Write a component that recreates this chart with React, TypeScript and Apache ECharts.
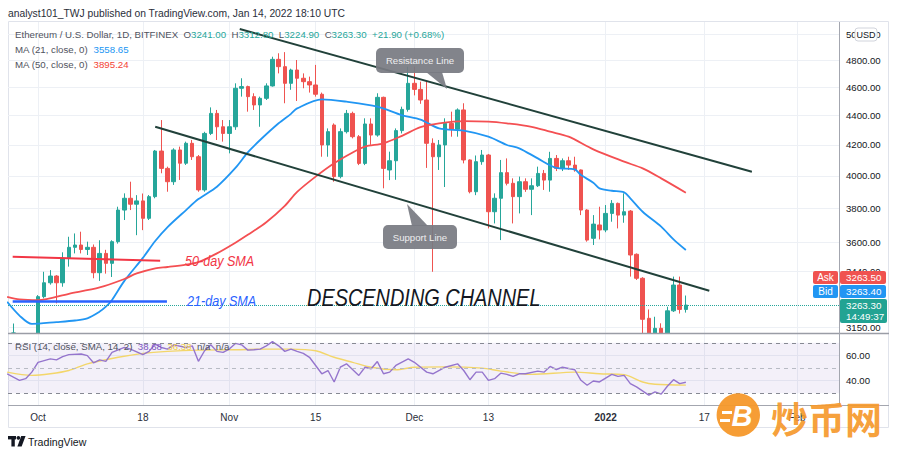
import React, { useEffect, useRef } from 'react';
import * as echarts from 'echarts';

const FONT = '"Liberation Sans", Arial, Helvetica, sans-serif';

// Day index 0 = 2021-10-01. First candle is 2021-09-27 (day -4), last is 2022-01-14 (day 105).
const FIRST_DAY = -4;

const opens = [
  3060, 2930, 2810, 2850, 3000, 3307, 3380, 3416, 3380, 3513,
  3574, 3587, 3562, 3574, 3434, 3540, 3485, 3606, 3790, 3861,
  3825, 3845, 3741, 3871, 4159, 4047, 3963, 4166, 4080, 4210,
  4122, 3912, 4276, 4413, 4321, 4276, 4321, 4591, 4603, 4531,
  4472, 4519, 4608, 4805, 4750, 4627, 4725, 4664, 4639, 4615,
  4548, 4199, 4333, 3995, 4288, 4413, 4254, 4079, 4340, 4265,
  4526, 4037, 4096, 4295, 4441, 4627, 4583, 4507, 4210, 4122,
  4199, 4344, 4304, 4437, 4101, 3901, 4090, 4133, 3780, 3861,
  4020, 3953, 3871, 3963, 3916, 3938, 4015, 3973, 4111, 4047,
  4096, 4068, 4037, 3790, 3625, 3702, 3673, 3770, 3830, 3760,
  3784, 3535, 3404, 3196, 3090, 3146, 3080, 3234, 3368, 3241,
];
const closes = [
  2930, 2810, 2850, 3000, 3307, 3380, 3416, 3380, 3513, 3574,
  3587, 3562, 3574, 3434, 3540, 3485, 3606, 3790, 3861, 3825,
  3845, 3741, 3871, 4159, 4047, 3963, 4166, 4080, 4210, 4122,
  3912, 4276, 4413, 4321, 4276, 4321, 4591, 4603, 4531, 4472,
  4519, 4608, 4805, 4750, 4627, 4725, 4664, 4639, 4615, 4548,
  4199, 4288, 3995, 4288, 4413, 4254, 4079, 4340, 4265, 4526,
  4047, 4096, 4295, 4441, 4627, 4583, 4507, 4210, 4122, 4199,
  4344, 4304, 4437, 4101, 3901, 4090, 4133, 3780, 3861, 4020,
  3953, 3871, 3963, 3916, 3938, 4015, 3973, 4111, 4047, 4096,
  4068, 4037, 3790, 3615, 3707, 3673, 3770, 3830, 3760, 3780,
  3531, 3404, 3191, 3100, 3146, 3080, 3234, 3368, 3241, 3263.3,
];
const lows = [
  2910, 2790, 2790, 2840, 2970, 3298, 3370, 3272, 3359, 3467,
  3540, 3540, 3531, 3404, 3390, 3429, 3411, 3595, 3731, 3790,
  3643, 3672, 3731, 3861, 4016, 3901, 3943, 3974, 4069, 4101,
  3901, 3901, 4265, 4232, 4221, 4144, 4300, 4531, 4425, 4437,
  4321, 4507, 4603, 4700, 4484, 4580, 4500, 4591, 4560, 4531,
  4122, 4122, 3963, 3984, 4276, 4243, 4068, 4068, 4200, 4254,
  3922, 3973, 3975, 4276, 4425, 4540, 4480, 4050, 3439, 4037,
  3930, 4254, 4254, 4079, 3891, 3880, 4070, 3682, 3711, 3615,
  3940, 3711, 3770, 3900, 3760, 3930, 3912, 3901, 4030, 4030,
  4037, 4026, 3760, 3606, 3587, 3619, 3660, 3721, 3682, 3715,
  3413, 3395, 3100, 2990, 3060, 2930, 3060, 3228, 3220, 3224.9,
];
const highs = [
  3170, 3060, 2950, 3050, 3315, 3439, 3448, 3421, 3546, 3634,
  3653, 3663, 3606, 3590, 3614, 3560, 3614, 3810, 3891, 3963,
  3880, 3890, 3881, 4166, 4367, 4058, 4177, 4188, 4221, 4232,
  4133, 4287, 4455, 4437, 4367, 4367, 4627, 4664, 4610, 4555,
  4531, 4627, 4825, 4851, 4860, 4735, 4800, 4700, 4676, 4763,
  4560, 4310, 4344, 4310, 4437, 4425, 4265, 4379, 4379, 4555,
  4531, 4155, 4310, 4460, 4750, 4750, 4639, 4640, 4243, 4232,
  4379, 4425, 4448, 4484, 4105, 4130, 4166, 4140, 3891, 4101,
  4111, 3984, 3995, 3984, 3984, 4058, 4037, 4154, 4133, 4111,
  4122, 4122, 4040, 3795, 3760, 3810, 3820, 3850, 3835, 3891,
  3790, 3540, 3410, 3241, 3204, 3171, 3255, 3413, 3413, 3312.8,
];

const ma21Days = [
  -5, -3, -1, 3, 6, 8, 10, 11, 12, 14,
  17, 19, 21, 24, 26, 29, 32, 34, 36, 39,
  41, 42, 46, 50, 55, 59, 62, 65, 69, 73,
  76, 78, 81, 84, 87, 88, 90, 91, 93, 95,
  96, 98, 101, 103, 105,
];
const ma21Values = [
  3280, 3210, 3168, 3177, 3185, 3196, 3230, 3255, 3290, 3390,
  3515, 3610, 3690, 3790, 3856, 3932, 4050, 4150, 4232, 4345,
  4410, 4448, 4512, 4495, 4460, 4400, 4370, 4310, 4295, 4254,
  4199, 4177, 4111, 4050, 4041, 4005, 3957, 3922, 3907, 3897,
  3861, 3780, 3692, 3619, 3558.65,
];

const ma50Days = [
  -5, -3, 0, 5, 10, 14, 16, 19, 21, 24,
  26, 29, 32, 34, 37, 40, 42, 45, 48, 51,
  53, 56, 59, 62, 65, 69, 73, 76, 80, 83,
  86, 90, 95, 98, 101, 105,
];
const ma50Values = [
  3306, 3293, 3289, 3322, 3355, 3400, 3430, 3458, 3465, 3478,
  3492, 3540, 3600, 3645, 3718, 3815, 3900, 3995, 4080, 4150,
  4188, 4210, 4260, 4318, 4344, 4360, 4356, 4344, 4321, 4288,
  4254, 4170, 4090, 4047, 3984, 3895.24,
];

const rsiDays = [
  -5, -3, -2, -1, 0, 2, 3, 4, 5, 7,
  8, 9, 10, 11, 12, 14, 15, 17, 18, 19,
  20, 21, 22, 24, 25, 26, 27, 28, 29, 30,
  31, 32, 33, 34, 35, 36, 37, 38, 39, 40,
  41, 42, 43, 44, 46, 47, 48, 49, 50, 52,
  53, 54, 55, 56, 57, 58, 60, 61, 63, 64,
  66, 68, 69, 70, 71, 72, 73, 74, 75, 76,
  77, 78, 79, 81, 82, 83, 84, 85, 87, 88,
  89, 90, 91, 93, 94, 95, 96, 97, 99, 100,
  101, 102, 103, 104, 105,
];
const rsiValues = [
  45.4, 40.2, 41.5, 46.7, 54.5, 57.2, 56.4, 59.0, 60.6, 61.1,
  59.8, 54.1, 56.4, 55.3, 62.4, 66.3, 65.0, 60.6, 63.2, 69.0,
  66.3, 65.0, 68.4, 66.3, 67.6, 55.3, 63.7, 68.4, 63.2, 62.4,
  65.0, 69.5, 68.4, 64.2, 64.5, 65.0, 67.6, 71.0, 67.6, 63.2,
  65.0, 63.2, 61.6, 58.5, 45.4, 48.0, 38.9, 50.6, 53.3, 44.1,
  50.6, 49.4, 55.1, 45.4, 46.7, 52.0, 57.2, 54.5, 46.7, 45.4,
  50.6, 53.3, 48.0, 40.7, 46.7, 46.7, 40.2, 41.5, 45.9, 44.9,
  43.3, 45.4, 45.4, 47.5, 46.7, 51.2, 48.8, 50.6, 48.6, 40.2,
  36.3, 39.7, 38.9, 44.9, 43.3, 44.1, 37.6, 35.0, 28.4, 31.0,
  29.2, 35.5, 40.7, 37.6, 38.68,
];

const rsiMaDays = [
  -5, -1, 2, 5, 8, 13, 17, 21, 26, 32,
  37, 41, 45, 48, 51, 54, 58, 61, 66, 72,
  75, 80, 87, 91, 95, 98, 100, 105,
];
const rsiMaValues = [
  46.7, 44.1, 45.4, 48.0, 53.3, 58.5, 61.6, 63.2, 64.2, 64.5,
  65.0, 65.0, 63.7, 58.5, 54.5, 50.6, 48.6, 50.6, 50.9, 49.9,
  47.5, 44.9, 46.7, 45.4, 44.7, 38.9, 37.1, 36.38,
];

const priceTicks = [3150, 3440, 3600, 3800, 4000, 4200, 4400, 4600, 4800, 5000];
const rsiTicks = [40, 60];
const rsiLevels = [70, 50, 30];
const rsiBand = [30, 70];
const timeTickDays = [0, 17, 31, 45, 61, 73, 92, 108, 123];
const timeTickLabels = ['Oct', '18', 'Nov', '15', 'Dec', '13', '2022', '17', 'Feb'];

// drawn annotations, as [day, price]
const resistanceLine = [[32.7, 5040], [115.7, 4026]];
const supportLine = [[19.0, 4321], [108.8, 3338]];
const sma50Marker = [[-4.1, 3521], [19.8, 3499]];
const sma21Marker = [[-4.1, 3282], [20.9, 3282]];

const askPrice = 3263.5;
const bidPrice = 3263.4;
const changeText = '+21.90 (+0.68%)';
const timeLeft = '14:49:37';

const X_MIN = -4.86;
const X_MAX = 129.82;
const PRICE_MIN = 3123;
const PRICE_MAX = 5096;
const RSI_MIN = 20.6;
const RSI_MAX = 77;

const UP = '#26a69a';
const DOWN = '#ef5350';
const GRID = '#edf0f5';
const AXIS_TXT = '#131722';

function buildOption(): any {
  const ln = Math.log;
  const last = opens.length - 1;
  const lnMin = ln(PRICE_MIN);
  const lnMax = ln(PRICE_MAX);
  // the candlestick series does not clip partly visible boxes, so clip them to the pane here
  const clip = (p: number) => Math.min(lnMax, Math.max(lnMin, ln(p)));
  const candleData = opens
    .map((o, i) => ({ i, o }))
    .filter(({ i }) => highs[i] >= PRICE_MIN && lows[i] <= PRICE_MAX)
    .map(({ i, o }) => [FIRST_DAY + i, clip(o), clip(closes[i]), clip(lows[i]), clip(highs[i])]);
  const pricePts = (days: number[], vals: number[]) => days.map((d, i) => [d, ln(vals[i])]);
  const pairPts = (pairs: number[][]) => pairs.map(([d, p]) => [d, ln(p)]);
  const plainPts = (days: number[], vals: number[]) => days.map((d, i) => [d, vals[i]]);
  const f2 = (v: number) => v.toFixed(2);

  const txt = (x: number, y: number, style: any, extra: any = {}) => ({
    type: 'text', x, y, z: 100, silent: true,
    style: { fontFamily: FONT, fontSize: 10, fill: AXIS_TXT, verticalAlign: 'middle', ...style },
    ...extra,
  });

  const calloutFill = 'rgba(120,123,130,0.93)';

  const graphic: any[] = [
    { type: 'rect', z: 0, silent: true, shape: { x: 8.5, y: 21.5, width: 880, height: 406 }, style: { fill: 'none', stroke: '#e0e3eb', lineWidth: 1 } },
    { type: 'line', z: 50, silent: true, shape: { x1: 8, y1: 333.5, x2: 889, y2: 333.5 }, style: { stroke: '#9a9da6', lineWidth: 1.6 } },
    { type: 'line', z: 50, silent: true, shape: { x1: 839.5, y1: 22, x2: 839.5, y2: 405 }, style: { stroke: '#a3a6af', lineWidth: 1 } },
    { type: 'line', z: 50, silent: true, shape: { x1: 8, y1: 405.5, x2: 889, y2: 405.5 }, style: { stroke: '#a3a6af', lineWidth: 1 } },

    txt(8, 13, { text: 'analyst101_TWJ published on TradingView.com, Jan 14, 2022 18:10 UTC', fontSize: 10.3, fill: '#2a2e39' }),

    txt(15, 34, {
      text: `{l|Ethereum / U.S. Dollar, 1D, BITFINEX}  {l|O}{v|${f2(opens[last])}}  {l|H}{v|${f2(highs[last])}}  {l|L}{v|${f2(lows[last])}}  {l|C}{v|${f2(closes[last])}}  {v|${changeText}}`,
      fontSize: 9.7,
      rich: { l: { fill: '#50535e', fontSize: 9.7, fontFamily: FONT }, v: { fill: UP, fontSize: 9.7, fontFamily: FONT } },
    }),
    txt(15, 49, {
      text: `{l|MA (21, close, 0)}  {b|${f2(ma21Values[ma21Values.length - 1])}}`,
      fontSize: 9.7,
      rich: { l: { fill: '#50535e', fontSize: 9.7, fontFamily: FONT }, b: { fill: '#2196f3', fontSize: 9.7, fontFamily: FONT } },
    }),
    txt(15, 64, {
      text: `{l|MA (50, close, 0)}  {r|${f2(ma50Values[ma50Values.length - 1])}}`,
      fontSize: 9.7,
      rich: { l: { fill: '#50535e', fontSize: 9.7, fontFamily: FONT }, r: { fill: '#f44336', fontSize: 9.7, fontFamily: FONT } },
    }),
    txt(15, 346, {
      text: `{l|RSI (14, close, SMA, 14, 2)}  {p|${f2(rsiValues[rsiValues.length - 1])}}  {y|${f2(rsiMaValues[rsiMaValues.length - 1])}}  {l|n/a}  {l|n/a}`,
      fontSize: 9.7,
      rich: {
        l: { fill: '#50535e', fontSize: 9.7, fontFamily: FONT },
        p: { fill: '#7e57c2', fontSize: 9.7, fontFamily: FONT },
        y: { fill: '#f2cf4a', fontSize: 9.7, fontFamily: FONT },
      },
    }),

    // callouts
    { type: 'rect', z: 90, silent: true, shape: { x: 376, y: 48, width: 88, height: 25, r: 5 }, style: { fill: calloutFill } },
    { type: 'polygon', z: 90, silent: true, shape: { points: [[426, 72], [442, 72], [447, 89]] }, style: { fill: calloutFill } },
    txt(420, 60.5, { text: 'Resistance Line', fill: '#eeeeef', fontSize: 9.6, align: 'center' }),
    { type: 'rect', z: 90, silent: true, shape: { x: 383, y: 225, width: 74, height: 24, r: 5 }, style: { fill: calloutFill } },
    { type: 'polygon', z: 90, silent: true, shape: { points: [[407, 204], [412, 226], [428, 226]] }, style: { fill: calloutFill } },
    txt(420, 237.5, { text: 'Support Line', fill: '#eeeeef', fontSize: 9.6, align: 'center' }),

    // annotation texts
    txt(185, 261, { text: '50-day SMA', fill: '#f23645', fontSize: 14, fontStyle: 'italic' }, { scaleX: 0.9 }),
    txt(187, 301.5, { text: '21-day SMA', fill: '#2962ff', fontSize: 14, fontStyle: 'italic' }, { scaleX: 0.9 }),
    txt(307, 298, { text: 'DESCENDING CHANNEL', fill: '#131722', fontSize: 24, fontStyle: 'italic' }, { scaleX: 0.83 }),

    // price tags
    { type: 'rect', z: 95, silent: true, shape: { x: 813, y: 271, width: 25, height: 13, r: 2 }, style: { fill: '#f05350' } },
    txt(825.5, 277.7, { text: 'Ask', fill: '#fff', fontSize: 10, align: 'center' }),
    { type: 'rect', z: 95, silent: true, shape: { x: 840, y: 271, width: 46, height: 13, r: 2 }, style: { fill: '#f05350' } },
    txt(846, 277.7, { text: f2(askPrice), fill: '#fff', fontSize: 9.8 }),
    { type: 'rect', z: 95, silent: true, shape: { x: 813, y: 285, width: 25, height: 13, r: 2 }, style: { fill: '#2196f3' } },
    txt(825.5, 291.7, { text: 'Bid', fill: '#fff', fontSize: 10, align: 'center' }),
    { type: 'rect', z: 95, silent: true, shape: { x: 840, y: 285, width: 46, height: 13, r: 2 }, style: { fill: '#2196f3' } },
    txt(846, 291.7, { text: f2(bidPrice), fill: '#fff', fontSize: 9.8 }),
    { type: 'rect', z: 95, silent: true, shape: { x: 840, y: 299, width: 47, height: 24, r: 2 }, style: { fill: '#22a393' } },
    txt(846, 305.5, { text: f2(closes[last]), fill: '#fff', fontSize: 9.8 }),
    txt(846, 316.5, { text: timeLeft, fill: '#fff', fontSize: 9.8 }),

    // USD badge
    { type: 'rect', z: 95, silent: true, shape: { x: 855, y: 28, width: 22, height: 13, r: 3 }, style: { fill: '#fff', stroke: '#d1d4dc', lineWidth: 1 } },
    txt(866, 34.5, { text: 'USD', fontSize: 9, align: 'center', fill: '#131722' }),

    // TradingView footer
    { type: 'rect', z: 95, silent: true, shape: { x: 8, y: 436, width: 8, height: 3.4 }, style: { fill: '#131722' } },
    { type: 'rect', z: 95, silent: true, shape: { x: 11.4, y: 436, width: 3.4, height: 10.5 }, style: { fill: '#131722' } },
    { type: 'circle', z: 95, silent: true, shape: { cx: 18.4, cy: 437.8, r: 1.9 }, style: { fill: '#131722' } },
    { type: 'polygon', z: 95, silent: true, shape: { points: [[21.2, 436], [25.6, 436], [21.6, 446.5], [17.4, 446.5]] }, style: { fill: '#131722' } },
    txt(28, 441.5, { text: 'TradingView', fontSize: 10.6, fill: '#131722' }),

    // watermark
    {
      type: 'group', z: 120, silent: true,
      children: [
        { type: 'circle', z: 120, shape: { cx: 738.3, cy: 415, r: 21.7 }, style: { fill: '#f6982a', opacity: 0.95 } },
        { type: 'text', z: 121, x: 742, y: 416, style: { text: 'B', fill: '#ffffff', fontSize: 29, fontWeight: 'bold', fontStyle: 'italic', fontFamily: FONT, align: 'center', verticalAlign: 'middle' } },
        { type: 'rect', z: 122, shape: { x: 722, y: 411, width: 10, height: 3 }, style: { fill: '#ffffff' } },
        { type: 'rect', z: 122, shape: { x: 720, y: 419, width: 10, height: 3 }, style: { fill: '#ffffff' } },
        { type: 'text', z: 121, x: 771, y: 418, style: { text: '炒币网', fill: '#f6982a', opacity: 0.93, fontSize: 37, fontWeight: 'bold', fontFamily: '"Noto Sans CJK SC", sans-serif', verticalAlign: 'middle' } },
      ],
    },
  ];

  const hiddenLine = (name: string, data: number[][], color: string, width: number, z = 4, smooth: any = false) => ({
    type: 'line', name, xAxisIndex: 0, yAxisIndex: 0, data, showSymbol: false, symbol: 'none', smooth,
    lineStyle: { color, width }, z, silent: true, clip: true,
  });

  return {
    animation: false,
    backgroundColor: '#ffffff',
    textStyle: { fontFamily: FONT },
    grid: [
      { left: 8, right: 61, top: 22, height: 311 },
      { left: 8, right: 61, top: 334, height: 71 },
    ],
    xAxis: [
      {
        type: 'value', gridIndex: 0, min: X_MIN, max: X_MAX,
        axisLine: { show: false }, axisTick: { show: false, customValues: timeTickDays },
        axisLabel: { show: false }, splitLine: { show: true, lineStyle: { color: GRID, width: 1 } },
      },
      {
        type: 'value', gridIndex: 1, min: X_MIN, max: X_MAX,
        axisLine: { show: false }, axisTick: { show: false, customValues: timeTickDays },
        axisLabel: {
          customValues: timeTickDays, margin: 7, color: '#2a2e39', fontSize: 10, fontFamily: FONT,
          formatter: (v: number) => {
            const idx = timeTickDays.indexOf(Math.round(v));
            const s = idx >= 0 ? timeTickLabels[idx] : '';
            return /^\d{4}$/.test(s) ? `{b|${s}}` : s;
          },
          rich: { b: { fontWeight: 'bold', fontSize: 10, fontFamily: FONT, color: '#2a2e39' } },
        },
        splitLine: { show: true, lineStyle: { color: GRID, width: 1 } },
      },
    ],
    yAxis: [
      {
        type: 'value', gridIndex: 0, position: 'right', min: lnMin, max: lnMax,
        axisLine: { show: false }, axisTick: { show: false, customValues: priceTicks.map(ln) },
        axisLabel: {
          customValues: priceTicks.map(ln), margin: 7, color: AXIS_TXT, fontSize: 9.6, fontFamily: FONT,
          formatter: (v: number) => Math.exp(v).toFixed(2),
        },
        splitLine: { show: true, lineStyle: { color: GRID, width: 1 } },
      },
      {
        type: 'value', gridIndex: 1, position: 'right', min: RSI_MIN, max: RSI_MAX,
        axisLine: { show: false }, axisTick: { show: false, customValues: rsiTicks },
        axisLabel: {
          customValues: rsiTicks, margin: 7, color: AXIS_TXT, fontSize: 9.6, fontFamily: FONT,
          formatter: (v: number) => v.toFixed(2),
        },
        splitLine: { show: true, lineStyle: { color: GRID, width: 1 } },
      },
    ],
    series: [
      {
        type: 'candlestick', name: 'ETHUSD', xAxisIndex: 0, yAxisIndex: 0, data: candleData,
        barWidth: 4, clip: true, z: 2, silent: true,
        itemStyle: { color: UP, color0: DOWN, borderColor: UP, borderColor0: DOWN, borderWidth: 1 },
        markLine: {
          silent: true, symbol: ['none', 'none'], label: { show: false },
          lineStyle: { color: UP, type: 'dotted', width: 1 },
          data: [{ yAxis: ln(closes[last]) }],
        },
      },
      hiddenLine('MA 21', pricePts(ma21Days, ma21Values), '#2196f3', 1.8, 3, 0.3),
      hiddenLine('MA 50', pricePts(ma50Days, ma50Values), '#f44f52', 1.8, 3, 0.3),
      hiddenLine('Resistance', pairPts(resistanceLine), '#21413a', 2, 5),
      hiddenLine('Support', pairPts(supportLine), '#21413a', 2, 5),
      hiddenLine('50-day SMA marker', pairPts(sma50Marker), '#f23645', 2, 5),
      hiddenLine('21-day SMA marker', pairPts(sma21Marker), '#2962ff', 2.4, 5),
      {
        type: 'line', name: 'RSI', xAxisIndex: 1, yAxisIndex: 1, data: plainPts(rsiDays, rsiValues),
        showSymbol: false, symbol: 'none', lineStyle: { color: '#9575cd', width: 1.4 }, z: 4, silent: true,
        markArea: {
          silent: true, itemStyle: { color: 'rgba(126,87,194,0.09)' },
          data: [[{ yAxis: rsiBand[0] }, { yAxis: rsiBand[1] }]],
        },
        markLine: {
          silent: true, symbol: ['none', 'none'], label: { show: false },
          lineStyle: { type: [4, 4], width: 1, color: '#868993' },
          data: rsiLevels.map((v) => ({ yAxis: v, lineStyle: { type: [4, 4], width: 1, color: v === 50 ? '#b8bbc4' : '#868993' } })),
        },
      },
      {
        type: 'line', name: 'RSI MA', xAxisIndex: 1, yAxisIndex: 1, data: plainPts(rsiMaDays, rsiMaValues),
        showSymbol: false, symbol: 'none', smooth: 0.3, lineStyle: { color: '#f3d66a', width: 1.4 }, z: 3, silent: true,
      },
    ],
    graphic,
  };
}

export default function App() {
  const ref = useRef<HTMLDivElement>(null);
  useEffect(() => {
    if (!ref.current) return;
    const chart = echarts.init(ref.current, null, { renderer: 'svg' });
    chart.setOption(buildOption());
    return () => chart.dispose();
  }, []);
  return (
    <div
      ref={ref}
      style={{ position: 'absolute', left: 0, top: 0, width: 900, height: 457, background: '#ffffff' }}
    />
  );
}
